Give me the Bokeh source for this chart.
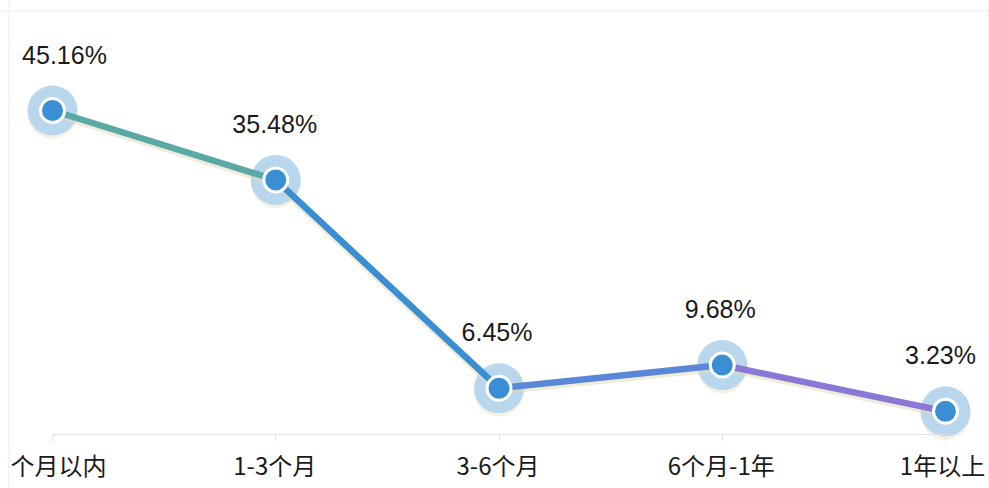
from bokeh.plotting import figure
from bokeh.models import ColumnDataSource, Range1d, FixedTicker, Span
from bokeh.core.properties import value
from bokeh.transform import dodge
from bokeh.embed import file_html
from bokeh.resources import INLINE

# ---- data ----
categories = ["个月以内", "1-3个月", "3-6个月", "6个月-1年", "1年以上"]
values = [45.16, 35.48, 6.45, 9.68, 3.23]
value_labels = ["45.16%", "35.48%", "6.45%", "9.68%", "3.23%"]

# ---- styling (not data) ----
seg_colors = ["#5aa9a6", "#3a8fd2", "#5b87d8", "#8a77d6"]
pct_dx = [12, -1, -2, -2, -5]
cat_dx = [6, -1, -1, -1, -3]

idx = list(range(len(categories)))

pts = ColumnDataSource(dict(x=idx, y=values, lab=value_labels, cat=categories,
                            pdx=pct_dx, cdx=cat_dx, zero=[0] * len(idx)))
segs = ColumnDataSource(dict(x0=idx[:-1], x1=idx[1:], y0=values[:-1], y1=values[1:],
                             c=seg_colors))

W, H = 989, 488
left_px, right_px = 52, 945          # canvas x of first / last category
zero_px = 434                         # canvas y of value 0
top_val_px = 110                      # canvas y of the largest value
px_per_cat = (right_px - left_px) / (len(idx) - 1)
x_start = -left_px / px_per_cat
x_end = (len(idx) - 1) + (W - right_px) / px_per_cat
px_per_unit = (zero_px - top_val_px) / max(values)
y_end = zero_px / px_per_unit
y_start = -(H - zero_px) / px_per_unit

p = figure(width=W, height=H, output_backend="svg", toolbar_location=None,
           x_range=Range1d(x_start, x_end), y_range=Range1d(y_start, y_end),
           y_axis_location=None, min_border=0)
p.outline_line_color = None
p.xgrid.visible = False
p.ygrid.visible = False
p.background_fill_color = "white"
p.border_fill_color = "white"

# faint container border (left, top, right)
def sx(px):
    return x_start + px / px_per_cat

def sy(px):
    return y_end - px / px_per_unit

border_col = "#ebebeb"
p.add_layout(Span(location=sx(8.5), dimension="height", line_color=border_col, line_width=1))
p.add_layout(Span(location=sx(987.5), dimension="height", line_color=border_col, line_width=1))
p.add_layout(Span(location=sy(10.5), dimension="width", line_color=border_col, line_width=1))

ax = p.xaxis[0]
ax.fixed_location = 0
ax.ticker = FixedTicker(ticks=idx)
ax.bounds = (0, len(idx) - 1)
ax.major_label_overrides = {i: "" for i in idx}
ax.axis_line_color = "#e3e3e3"
ax.axis_line_width = 1
ax.major_tick_line_color = "#e3e3e3"
ax.major_tick_out = 7
ax.major_tick_in = 0
ax.minor_tick_line_color = None

# halo shadows
p.scatter(x="x", y=dodge("y", -0.45), source=pts, size=50, marker="circle",
          fill_color="#e9e2c6", fill_alpha=0.45, line_color=None)
# halos
p.scatter(x="x", y="y", source=pts, size=50, marker="circle",
          fill_color="#b3d4ec", fill_alpha=0.9, line_color=None)
# line shadow
p.segment(x0="x0", y0=dodge("y0", -0.45), x1="x1", y1=dodge("y1", -0.45), source=segs,
          line_color="#e2dab8", line_alpha=0.5, line_width=6.5)
# line
p.segment(x0="x0", y0="y0", x1="x1", y1="y1", source=segs,
          line_color="c", line_width=6.5, line_cap="round")
# inner markers
p.scatter(x="x", y="y", source=pts, size=24, marker="circle",
          fill_color="#3a8fd4", line_color="white", line_width=3)

# value labels
p.text(x="x", y="y", text="lab", source=pts, x_offset="pdx", y_offset=-56,
       text_align="center", text_baseline="middle",
       text_font=value("Liberation Sans"), text_font_size="25px", text_color="#1a1a1a")

# category labels
p.text(x="x", y="zero", text="cat", source=pts, x_offset="cdx", y_offset=30,
       text_align="center", text_baseline="middle",
       text_font=value("Noto Sans CJK SC"), text_font_size="24px", text_color="#1a1a1a")

open("out.html", "w").write(file_html(p, INLINE))
